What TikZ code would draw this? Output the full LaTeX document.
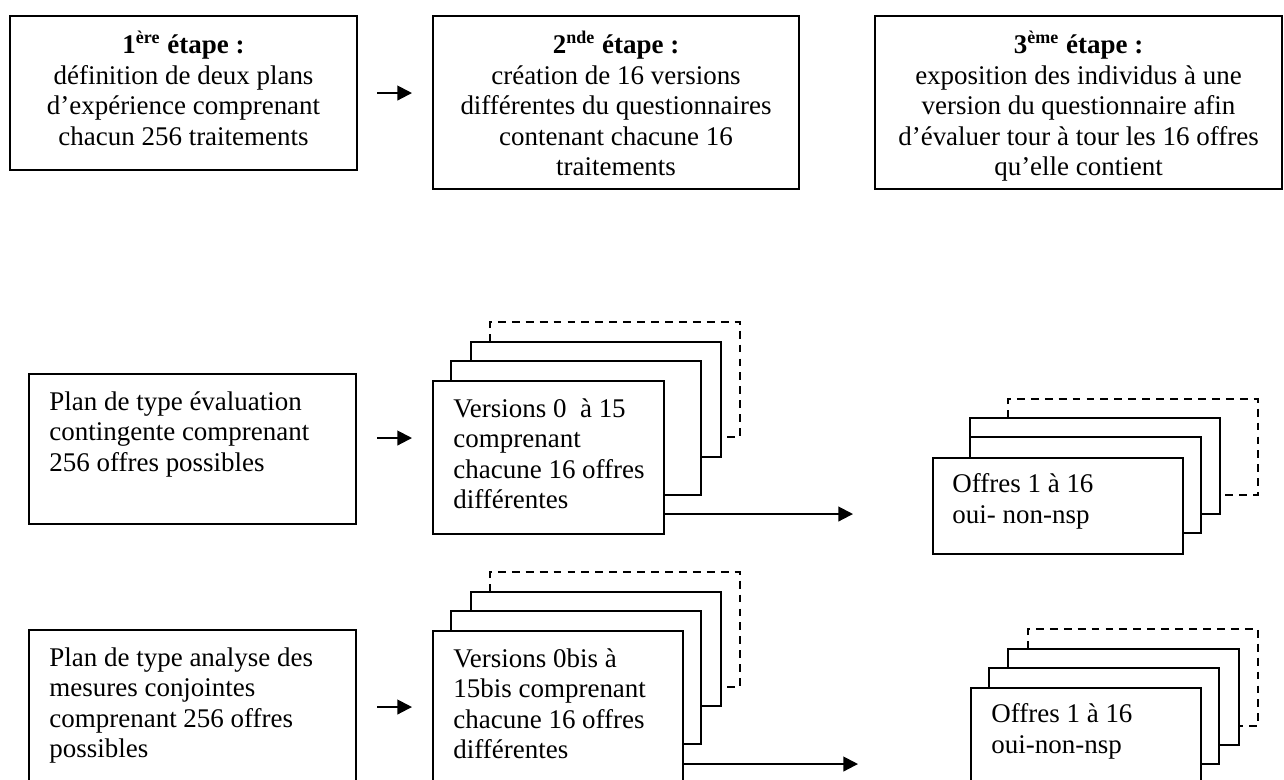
\documentclass[tikz,border=0pt]{standalone}
\usepackage{fontspec}
\setmainfont{Liberation Serif}
\usetikzlibrary{arrows.meta,positioning}
\newdimen\pxu
\pxu=0.445pt
\newcommand{\backsheet}[7][sheet]{\draw[#1] (#2,#6)--(#2,#3)--(#4,#3)--(#4,#5)--(#7,#5);}
\tikzset{
  etape/.style={draw, line width=0.9pt, anchor=north west, inner sep=0pt},
  titletext/.style={anchor=north, inner sep=0pt, align=center, font=\fontsize{12pt}{13.6pt}\selectfont},
  boxtext/.style={anchor=north west, inner sep=0pt, align=left, font=\fontsize{12pt}{13.6pt}\selectfont},
  flow/.style={line width=0.9pt, -{Triangle[length=6.5pt,width=6.5pt]}},
  sheet/.style={line width=0.9pt},
  lastsheet/.style={line width=0.9pt, dash pattern=on 3.5pt off 2.7pt}
}
\begin{document}
\begin{tikzpicture}[x=\pxu, y=-\pxu]
\path[use as bounding box, clip] (0,0) rectangle (1284,779);
\node[etape, minimum width=347\pxu, minimum height=154\pxu] (e1) at (9,15) {};
\node[etape, minimum width=366\pxu, minimum height=173\pxu] (e2) at (432,15) {};
\node[etape, minimum width=407\pxu, minimum height=173\pxu] (e3) at (874,15) {};
\node[titletext] (t1) at ([yshift=-16\pxu]e1.north) {\textbf{1\textsuperscript{ère} étape :}\\définition de deux plans\\d’expérience comprenant\\chacun 256 traitements};
\node[titletext] (t2) at ([yshift=-16\pxu]e2.north) {\textbf{2\textsuperscript{nde} étape :}\\création de 16 versions\\différentes du questionnaires\\contenant chacune 16\\traitements};
\node[titletext] (t3) at ([yshift=-16\pxu]e3.north) {\textbf{3\textsuperscript{ème} étape :}\\exposition des individus à une\\version du questionnaire afin\\d’évaluer tour à tour les 16 offres\\qu’elle contient};
\draw[flow, shorten <=19\pxu, shorten >=20\pxu] (e1.east) -- (e1.east -| e2.west);
% premier plan
\node[etape, minimum width=327\pxu, minimum height=150\pxu] (planA) at (28,373) {};
\node[boxtext] (tplanA) at ([xshift=21\pxu, yshift=-18\pxu]planA.north west) {Plan de type évaluation\\contingente comprenant\\256 offres possibles};
\backsheet{451}{361}{701}{495}{380}{663}
\backsheet{471}{342}{721}{457}{361}{701}
\backsheet[lastsheet]{490}{322}{740}{437}{342}{721}
\node[etape, minimum width=231\pxu, minimum height=153\pxu] (versA) at (432,380) {};
\node[boxtext] (tversA) at ([xshift=21\pxu, yshift=-18\pxu]versA.north west) {Versions 0\ \ à 15\\comprenant\\chacune 16 offres\\différentes};
\backsheet{970}{437}{1201}{533}{457}{1182}
\backsheet{970}{418}{1220}{514}{437}{1201}
\backsheet[lastsheet]{1008}{399}{1258}{495}{418}{1220}
\node[etape, minimum width=250\pxu, minimum height=96\pxu] (offA) at (932,457) {};
\node[boxtext] (toffA) at ([xshift=20\pxu, yshift=-16\pxu]offA.north west) {Offres 1 à 16\\oui- non-nsp};
\coordinate (aA) at (412,438);
\coordinate (bA) at (853,514);
\draw[flow, shorten <=20\pxu] (planA.east |- aA) -- (aA);
\draw[flow] (versA.east |- bA) -- (bA);
% second plan
\node[etape, minimum width=327\pxu, minimum height=200\pxu] (planB) at (28,629) {};
\node[boxtext] (tplanB) at ([xshift=21\pxu, yshift=-18\pxu]planB.north west) {Plan de type analyse des\\mesures conjointes\\comprenant 256 offres\\possibles};
\backsheet{451}{611}{701}{744}{630}{682}
\backsheet{471}{592}{721}{706}{611}{701}
\backsheet[lastsheet]{490}{572}{740}{687}{592}{721}
\node[etape, minimum width=250\pxu, minimum height=200\pxu] (versB) at (432,630) {};
\node[boxtext] (tversB) at ([xshift=21\pxu, yshift=-18\pxu]versB.north west) {Versions 0bis à\\15bis comprenant\\chacune 16 offres\\différentes};
\backsheet{989}{668}{1219}{764}{687}{1200}
\backsheet{1008}{649}{1239}{745}{668}{1219}
\backsheet[lastsheet]{1028}{629}{1258}{726}{649}{1239}
\node[etape, minimum width=230\pxu, minimum height=150\pxu] (offB) at (970,687) {};
\node[boxtext] (toffB) at ([xshift=21\pxu, yshift=-16\pxu]offB.north west) {Offres 1 à 16\\oui-non-nsp};
\coordinate (aB) at (412,707);
\coordinate (bB) at (858,764);
\draw[flow, shorten <=20\pxu] (planB.east |- aB) -- (aB);
\draw[flow] (versB.east |- bB) -- (bB);
\end{tikzpicture}
\end{document}
